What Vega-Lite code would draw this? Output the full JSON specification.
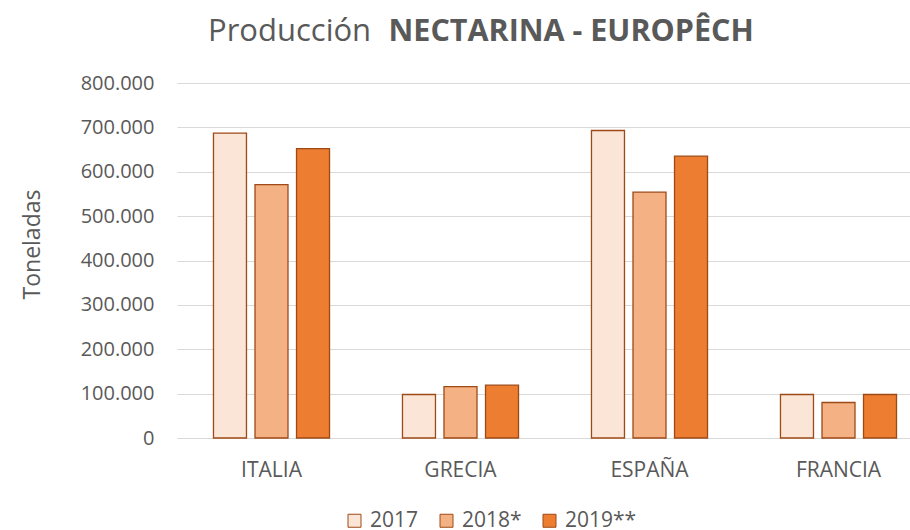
{
  "$schema": "https://vega.github.io/schema/vega-lite/v6.json",
  "width": 728,
  "height": 355,
  "autosize": "none",
  "padding": {"left": 177, "top": 83, "right": 5, "bottom": 92},
  "background": "white",
  "config": {
    "locale": {"number": {"decimal": ",", "thousands": ".", "grouping": [3], "currency": ["", " €"]}},
    "view": {"stroke": null},
    "font": "Open Sans"
  },
  "title": {
    "text": "Producción",
    "anchor": "start",
    "frame": "group",
    "dx": 31,
    "offset": 0,
    "dy": 56,
    "baseline": "alphabetic",
    "fontSize": 31,
    "font": "Open Sans",
    "fontWeight": "normal",
    "color": "#595959"
  },
  "data": {
    "values": [
      {"pais": "ITALIA", "anio": "2017", "valor": 687000},
      {"pais": "ITALIA", "anio": "2018*", "valor": 571000},
      {"pais": "ITALIA", "anio": "2019**", "valor": 652000},
      {"pais": "GRECIA", "anio": "2017", "valor": 98000},
      {"pais": "GRECIA", "anio": "2018*", "valor": 116000},
      {"pais": "GRECIA", "anio": "2019**", "valor": 119000},
      {"pais": "ESPAÑA", "anio": "2017", "valor": 693000},
      {"pais": "ESPAÑA", "anio": "2018*", "valor": 554000},
      {"pais": "ESPAÑA", "anio": "2019**", "valor": 635000},
      {"pais": "FRANCIA", "anio": "2017", "valor": 98000},
      {"pais": "FRANCIA", "anio": "2018*", "valor": 80000},
      {"pais": "FRANCIA", "anio": "2019**", "valor": 98000}
    ]
  },
  "mark": {"type": "bar", "stroke": "#9E4A16", "strokeWidth": 1.3},
  "encoding": {
    "x": {
      "field": "pais",
      "type": "nominal",
      "sort": ["ITALIA", "GRECIA", "ESPAÑA", "FRANCIA"],
      "scale": {"range": [0, 756], "paddingInner": 0.386, "paddingOuter": 0.193},
      "axis": {
        "title": "NECTARINA - EUROPÊCH",
        "titleX": 211,
        "titleY": -398,
        "titleAlign": "left",
        "titleAnchor": null,
        "titleBaseline": "alphabetic",
        "titleAngle": 0,
        "titleFontSize": 30.5,
        "titleFontWeight": "bold",
        "titleColor": "#595959",
        "titleFont": "Open Sans",
        "labelAngle": 0,
        "labelFontSize": 21,
        "labelColor": "#595959",
        "labelFont": "Open Sans",
        "labelPadding": 21,
        "ticks": false,
        "domainColor": "#D9D9D9",
        "domainWidth": 1
      }
    },
    "xOffset": {
      "field": "anio",
      "type": "nominal",
      "sort": ["2017", "2018*", "2019**"],
      "scale": {"paddingInner": 0.205, "paddingOuter": 0}
    },
    "y": {
      "field": "valor",
      "type": "quantitative",
      "scale": {"domain": [0, 800000]},
      "axis": {
        "title": "Toneladas",
        "titleX": -145,
        "titleY": 161,
        "titleAngle": -90,
        "titleBaseline": "middle",
        "titleAlign": "center",
        "titleFontSize": 23,
        "titleFontWeight": "normal",
        "titleColor": "#595959",
        "titleFont": "Open Sans",
        "values": [0, 100000, 200000, 300000, 400000, 500000, 600000, 700000, 800000],
        "format": ",d",
        "labelFontSize": 20,
        "labelColor": "#595959",
        "labelFont": "Open Sans",
        "labelPadding": 23,
        "ticks": false,
        "domain": false,
        "grid": true,
        "gridColor": "#D9D9D9",
        "gridWidth": 1
      }
    },
    "fill": {
      "field": "anio",
      "type": "nominal",
      "sort": ["2017", "2018*", "2019**"],
      "scale": {"domain": ["2017", "2018*", "2019**"], "range": ["#FBE5D6", "#F4B183", "#ED7D31"]},
      "legend": {
        "title": null,
        "orient": "none",
        "direction": "horizontal",
        "legendX": 167,
        "legendY": 427,
        "symbolType": "square",
        "symbolSize": 169,
        "symbolStrokeColor": "#9E4A16",
        "symbolStrokeWidth": 1,
        "labelFontSize": 21,
        "labelColor": "#595959",
        "labelFont": "Open Sans",
        "labelOffset": 5,
        "columnPadding": 17
      }
    }
  }
}
